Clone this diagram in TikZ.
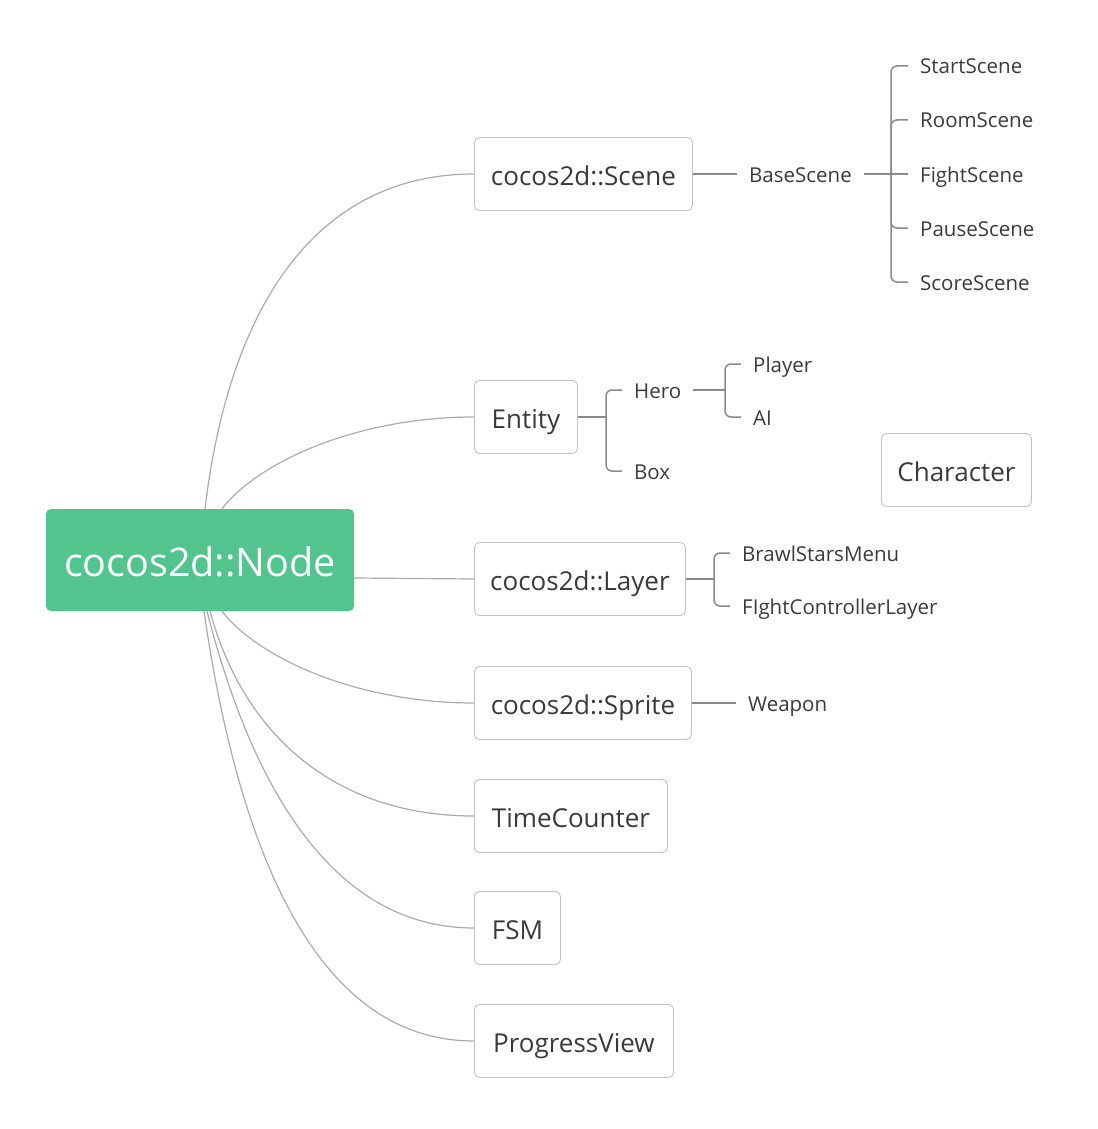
\documentclass[tikz,border=0pt]{standalone}
\usepackage{fontspec}
\setmainfont{Open Sans}
\usetikzlibrary{calc}
\begin{document}
\begin{tikzpicture}[x=1pt,y=-1pt,
  root/.style={fill=croot,text=white,rounded corners=5pt,minimum width=308pt,minimum height=102pt,inner sep=0pt,font=\fontsize{39.5}{39.5}\selectfont,text height=33pt,text depth=0pt},
  box/.style={draw=cbox,line width=0.9pt,fill=white,rounded corners=5pt,minimum height=73pt,anchor=west,inner sep=0pt,font=\fontsize{26}{26}\selectfont,text=ctext,text height=22pt,text depth=0pt},
  leaf/.style={anchor=west,inner xsep=12pt,inner ysep=0pt,font=\fontsize{20.5}{20.5}\selectfont,text=ctext,text height=16pt,text depth=0pt},
  curve/.style={draw=ccurve,line width=1.2pt},
  bracket/.style={draw=cline,line width=1.5pt,rounded corners=6pt}]
%
\useasboundingbox (0,0) rectangle (1097,1129);
%
\definecolor{croot}{RGB}{82,196,142}
\definecolor{cbox}{RGB}{196,196,196}
\definecolor{ccurve}{RGB}{171,171,171}
\definecolor{cline}{RGB}{138,138,138}
\definecolor{ctext}{RGB}{58,58,58}
%
\node[root] (v0) at (200,560) {cocos2d::Node};
\node[box,minimum width=218pt] (v1) at (474,174) {cocos2d::Scene};
\node[box,minimum width=103pt] (v2) at (474,417) {Entity};
\node[box,minimum width=211pt] (v3) at (474,579) {cocos2d::Layer};
\node[box,minimum width=217pt] (v4) at (474,703) {cocos2d::Sprite};
\node[box,minimum width=193pt] (v5) at (474,816) {TimeCounter};
\node[box,minimum width=86pt] (v6) at (474,928) {FSM};
\node[box,minimum width=199pt] (v7) at (474,1041) {ProgressView};
\node[box,minimum width=150pt] (v8) at (881,470) {Character};
%
\node[leaf] (l0) at (737,174) {BaseScene};
\node[leaf] (s0) at (908,66) {StartScene};
\node[leaf] (s1) at (908,120) {RoomScene};
\node[leaf] (s2) at (908,174) {FightScene};
\node[leaf] (s3) at (908,228) {PauseScene};
\node[leaf] (s4) at (908,282) {ScoreScene};
\node[leaf] (e0) at (622,390) {Hero};
\node[leaf] (e1) at (622,471) {Box};
\node[leaf] (h0) at (741,364) {Player};
\node[leaf] (h1) at (741,417) {AI};
\node[leaf] (y0) at (730,553) {BrawlStarsMenu};
\node[leaf] (y1) at (730,606) {FIghtControllerLayer};
\node[leaf] (w0) at (736,703) {Weapon};
%
\coordinate (j0) at (891,174);
\coordinate (j1) at (606,417);
\coordinate (j2) at (725,390);
\coordinate (j3) at (714,579);
%
\draw[curve] ($(v0.north)+(5,0)$) .. controls (230,300) and (320,174) .. (v1.west);
\draw[curve] ($(v0.north)+(22,0)$) .. controls (260,460) and (360,417) .. (v2.west);
\draw[curve] ($(v0.east)+(0,18)$) .. controls (414,578) and (414,579) .. (v3.west);
\draw[curve] ($(v0.south)+(22,0)$) .. controls (260,660) and (360,703) .. (v4.west);
\draw[curve] ($(v0.south)+(10,0)$) .. controls (245,740) and (340,816) .. (v5.west);
\draw[curve] ($(v0.south)+(7,0)$) .. controls (245,760) and (320,928) .. (v6.west);
\draw[curve] ($(v0.south)+(4,0)$) .. controls (240,860) and (320,1041) .. (v7.west);
%
\draw[bracket] (v1.east) -- (l0.west);
\draw[bracket] (l0.east) -- (j0);
\foreach \s in {s0,s1,s3,s4} \draw[bracket] (j0) |- (\s.west);
\draw[bracket] (j0) -- (s2.west);
\draw[bracket] (v2.east) -- (j1);
\foreach \s in {e0,e1} \draw[bracket] (j1) |- (\s.west);
\draw[bracket] (e0.east) -- (j2);
\foreach \s in {h0,h1} \draw[bracket] (j2) |- (\s.west);
\draw[bracket] (v3.east) -- (j3);
\foreach \s in {y0,y1} \draw[bracket] (j3) |- (\s.west);
\draw[bracket] (v4.east) -- (w0.west);
%
\end{tikzpicture}
\end{document}
